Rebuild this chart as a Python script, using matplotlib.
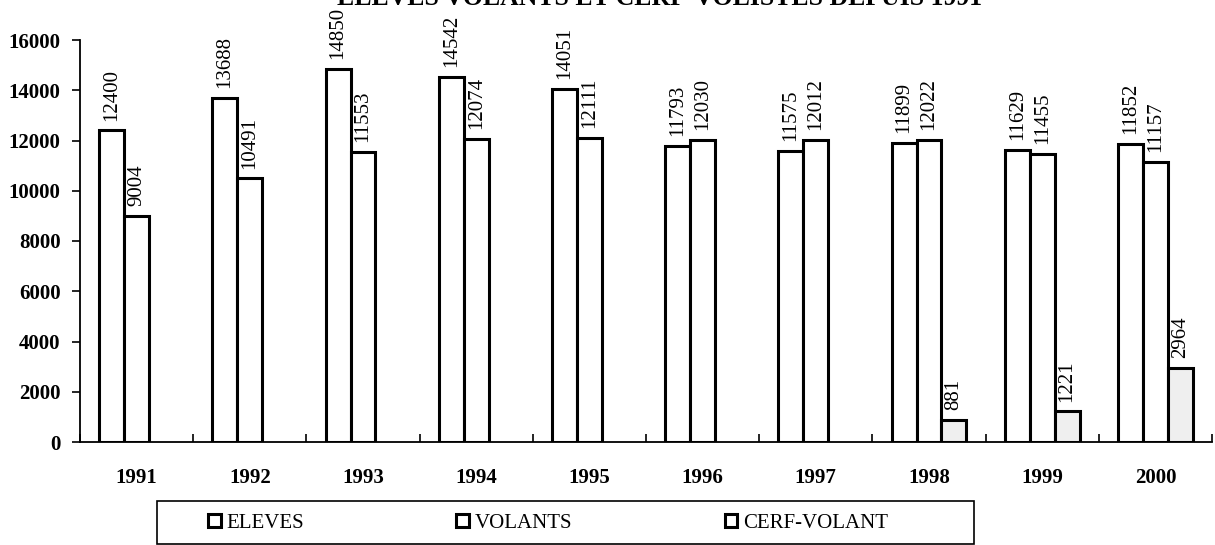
import matplotlib
matplotlib.use("Agg")
import matplotlib.pyplot as plt
import numpy as np
from matplotlib.patches import Patch, Rectangle

years = ["1991", "1992", "1993", "1994", "1995", "1996", "1997", "1998", "1999", "2000"]
eleves = [12400, 13688, 14850, 14542, 14051, 11793, 11575, 11899, 11629, 11852]
volants = [9004, 10491, 11553, 12074, 12111, 12030, 12012, 12022, 11455, 11157]
cerf_volant = [None, None, None, None, None, None, None, 881, 1221, 2964]
series_names = ["ELEVES", "VOLANTS", "CERF-VOLANT"]
title = "ELEVES VOLANTS ET CERF-VOLISTES DEPUIS 1991"

plt.rcParams['font.family'] = ['Liberation Serif', 'DejaVu Serif']

fig = plt.figure(figsize=(12.15, 5.45), dpi=100)
ax = fig.add_axes([80/1215, 103/545, 1132/1215, 402/545])

x = np.arange(len(years))
w = 0.22
faces = ['white', 'white', '#efefef']
for i, (vals, fc) in enumerate(zip([eleves, volants, cerf_volant], faces)):
    xs = [xi + (i - 1) * w for xi, v in zip(x, vals) if v is not None]
    vs = [v for v in vals if v is not None]
    ax.bar(xs, vs, width=w, facecolor=fc, edgecolor='black', linewidth=2.2)
    for xx, vv in zip(xs, vs):
        ax.annotate(str(vv), (xx, vv), xytext=(0, 7), textcoords='offset points',
                    rotation=90, ha='center', va='bottom', fontsize=15)

ax.set_xlim(-0.5, len(years) - 0.5)
ax.set_ylim(0, 16000)
ax.set_yticks(np.arange(0, 16001, 2000))
ax.set_yticklabels([str(v) for v in range(0, 16001, 2000)], fontsize=15, fontweight='bold')
ax.set_xticks(x)
ax.set_xticklabels(years, fontsize=15, fontweight='bold')
ax.set_xticks(np.arange(-0.5, len(years), 1), minor=True)
ax.tick_params(axis='x', which='major', length=0, pad=19)
ax.tick_params(axis='x', which='minor', direction='in', length=6, width=1.2)
ax.tick_params(axis='y', direction='out', length=6, width=1.2, pad=8)
for s in ['top', 'right']:
    ax.spines[s].set_visible(False)
ax.spines['left'].set_linewidth(1.3)
ax.spines['bottom'].set_linewidth(1.3)

fig.text(660/1215, 1 - 5/545, title, ha='center', va='baseline',
         fontsize=18.5, fontweight='bold')

# legend
fig.patches.append(Rectangle((157/1215, 1/545), 817/1215, 43/545,
                             transform=fig.transFigure, fill=False,
                             edgecolor='black', linewidth=1.2))
handles = [Patch(facecolor='white', edgecolor='black', linewidth=2.2) for _ in series_names]
fig.legend(handles, series_names, loc='center left', bbox_to_anchor=(208/1215, 22/545),
           ncol=3, frameon=False, fontsize=15, borderpad=0, borderaxespad=0,
           handlelength=0.6, handleheight=0.6, handletextpad=0.3, columnspacing=7.3)

fig.savefig("out.png", dpi=100, facecolor='white')
